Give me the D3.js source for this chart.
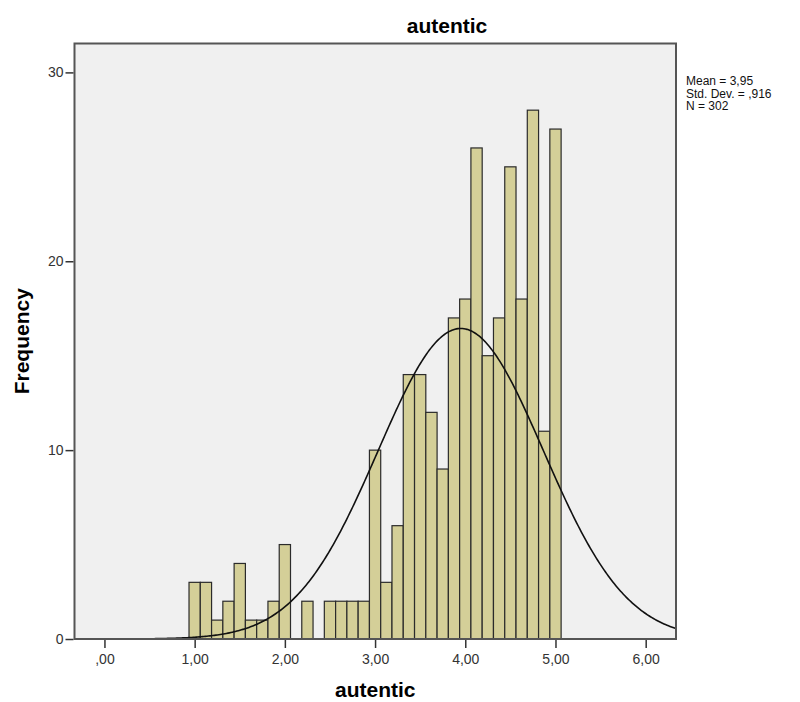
<!DOCTYPE html>
<html>
<head>
<meta charset="utf-8">
<style>
  body { margin: 0; background: #fff; }
  text { font-family: "Liberation Sans", Arial, sans-serif; }
  .axis path { display: none; }
  .axis line { stroke: #333; stroke-width: 1.5px; }
  .axis text { fill: #333; font-size: 14px; }
</style>
</head>
<body>
<script src="https://cdn.jsdelivr.net/npm/d3@7/dist/d3.min.js"></script>
<script>
// bin centres (width 0.125) and their counts
var binWidth = 0.125;
var binCenters = [1.0, 1.125, 1.25, 1.375, 1.5, 1.625, 1.75, 1.875, 2.0, 2.125, 2.25, 2.375,
                  2.5, 2.625, 2.75, 2.875, 3.0, 3.125, 3.25, 3.375, 3.5, 3.625, 3.75,
                  3.875, 4.0, 4.125, 4.25, 4.375, 4.5, 4.625, 4.75, 4.875, 5.0];
var counts = [3, 3, 1, 2, 4, 1, 1, 2, 5, 0, 2, 0,
              2, 2, 2, 2, 10, 3, 6, 14, 14, 12, 9,
              17, 18, 26, 15, 17, 25, 18, 28, 11, 27];
var xTicks = [0, 1, 2, 3, 4, 5, 6];
var yTicks = [0, 10, 20, 30];
var stats = { mean: 3.95, sd: 0.916, n: 302 };
var statLines = ["Mean = 3,95", "Std. Dev. = ,916", "N = 302"];

var width = 800, height = 702;
var plotL = 74.5, plotR = 676, plotT = 43.5, plotB = 639;

var svg = d3.select("body").append("svg")
    .attr("width", width)
    .attr("height", height);

var x = d3.scaleLinear().domain([-0.332, 6.336]).range([plotL, plotR]);
var y = d3.scaleLinear().domain([0, 31.53]).range([plotB, plotT]);

var fmt = function(v) {
  var s = d3.format(".2f")(v).replace(".", ",");
  return s.indexOf("0,") === 0 ? s.slice(1) : s;
};

// plot background
svg.append("rect")
    .attr("x", plotL).attr("y", plotT)
    .attr("width", plotR - plotL).attr("height", plotB - plotT)
    .attr("fill", "#f0f0f0");

// bars
var data = binCenters.map((c, i) => ({ c: c, n: counts[i] })).filter(d => d.n > 0);
svg.append("g")
  .selectAll("rect")
  .data(data)
  .join("rect")
    .attr("x", d => x(d.c - binWidth / 2))
    .attr("width", d => x(d.c + binWidth / 2) - x(d.c - binWidth / 2))
    .attr("y", d => y(d.n))
    .attr("height", d => y(0) - y(d.n))
    .attr("fill", "#d4cf98")
    .attr("stroke", "#2b2b2b")
    .attr("stroke-width", 1.2);

// fitted normal curve from the stated mean / sd / N
var scaleN = stats.n * binWidth;
var curvePts = d3.range(0, 401).map(i => {
  var v = x.domain()[0] + (x.domain()[1] - x.domain()[0]) * i / 400;
  var z = (v - stats.mean) / stats.sd;
  return [v, scaleN * Math.exp(-0.5 * z * z) / (stats.sd * Math.sqrt(2 * Math.PI))];
});
svg.append("path")
    .datum(curvePts)
    .attr("fill", "none")
    .attr("stroke", "#111")
    .attr("stroke-width", 1.6)
    .attr("d", d3.line().x(d => x(d[0])).y(d => y(d[1])));

// frame
svg.append("rect")
    .attr("x", plotL).attr("y", plotT)
    .attr("width", plotR - plotL).attr("height", plotB - plotT)
    .attr("fill", "none")
    .attr("stroke", "#555")
    .attr("stroke-width", 2);

// axes
svg.append("g")
    .attr("class", "axis")
    .attr("transform", "translate(0," + (plotB + 1) + ")")
    .call(d3.axisBottom(x).tickValues(xTicks).tickFormat(fmt).tickSize(8).tickPadding(6));

svg.append("g")
    .attr("class", "axis")
    .attr("transform", "translate(" + (plotL - 1) + ",0)")
    .call(d3.axisLeft(y).tickValues(yTicks).tickSize(8).tickPadding(2));

// titles
svg.append("text")
    .attr("x", 447).attr("y", 33)
    .attr("text-anchor", "middle")
    .attr("font-size", 21).attr("font-weight", "bold")
    .text("autentic");

svg.append("text")
    .attr("x", (plotL + plotR) / 2).attr("y", 697)
    .attr("text-anchor", "middle")
    .attr("font-size", 21).attr("font-weight", "bold")
    .text("autentic");

svg.append("text")
    .attr("transform", "translate(29," + ((plotT + plotB) / 2) + ") rotate(-90)")
    .attr("text-anchor", "middle")
    .attr("font-size", 21).attr("font-weight", "bold")
    .text("Frequency");

// stats box
svg.append("g")
  .selectAll("text")
  .data(statLines)
  .join("text")
    .attr("x", 686)
    .attr("y", (d, i) => 85 + i * 12.5)
    .attr("font-size", 12)
    .attr("fill", "#111")
    .text(d => d);
</script>
</body>
</html>
